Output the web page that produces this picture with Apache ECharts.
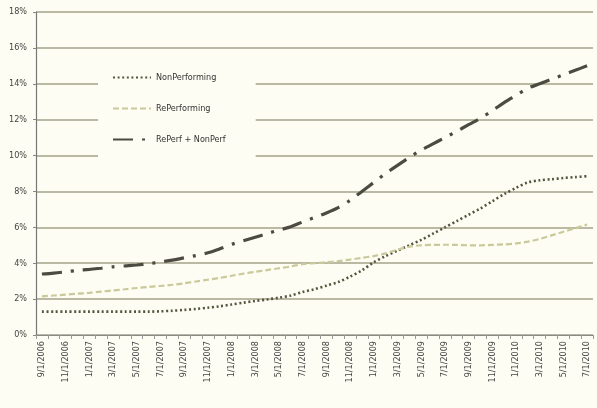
<!DOCTYPE html>
<html>
<head>
<meta charset="utf-8">
<script src="https://cdn.jsdelivr.net/npm/echarts@6/dist/echarts.min.js"></script>
<style>
html,body{margin:0;padding:0;background:#fdfdf3;}
#c{width:597px;height:408px;}
</style>
</head>
<body>
<div id="c"></div>
<script>
var categories = [
 "9/1/2006","10/1/2006","11/1/2006","12/1/2006",
 "1/1/2007","2/1/2007","3/1/2007","4/1/2007","5/1/2007","6/1/2007","7/1/2007","8/1/2007","9/1/2007","10/1/2007","11/1/2007","12/1/2007",
 "1/1/2008","2/1/2008","3/1/2008","4/1/2008","5/1/2008","6/1/2008","7/1/2008","8/1/2008","9/1/2008","10/1/2008","11/1/2008","12/1/2008",
 "1/1/2009","2/1/2009","3/1/2009","4/1/2009","5/1/2009","6/1/2009","7/1/2009","8/1/2009","9/1/2009","10/1/2009","11/1/2009","12/1/2009",
 "1/1/2010","2/1/2010","3/1/2010","4/1/2010","5/1/2010","6/1/2010","7/1/2010"
];
var nonPerforming = [
 1.30,1.30,1.30,1.30,1.30,1.30,1.30,1.30,1.30,1.30,1.32,1.35,1.40,1.45,1.52,1.60,
 1.70,1.80,1.90,1.98,2.08,2.20,2.40,2.55,2.75,2.95,3.25,3.60,
 4.05,4.40,4.70,5.00,5.30,5.65,6.00,6.35,6.70,7.05,7.45,7.85,
 8.20,8.50,8.62,8.68,8.75,8.80,8.85
];
var rePerforming = [
 2.15,2.20,2.25,2.30,2.35,2.42,2.48,2.55,2.62,2.68,2.73,2.80,2.88,2.98,3.08,3.18,
 3.30,3.42,3.52,3.62,3.72,3.82,3.95,4.00,4.05,4.12,4.20,4.30,
 4.40,4.55,4.75,4.92,5.00,5.02,5.03,5.02,5.00,5.00,5.02,5.05,
 5.10,5.20,5.35,5.55,5.75,5.95,6.15
];
var rePerfPlusNonPerf = [
 3.40,3.45,3.52,3.60,3.66,3.72,3.80,3.85,3.90,3.97,4.07,4.17,4.30,4.43,4.58,4.80,
 5.05,5.25,5.45,5.65,5.85,6.03,6.30,6.55,6.80,7.10,7.50,8.00,
 8.50,9.00,9.45,9.90,10.30,10.65,11.00,11.35,11.72,12.08,12.50,12.95,
 13.35,13.75,14.00,14.25,14.50,14.75,15.00
];
var yTicks = {min:0, max:18, interval:2};

var chart = echarts.init(document.getElementById('c'));
var font = "'Liberation Sans Narrow','DejaVu Sans Condensed',sans-serif";
chart.setOption({
  backgroundColor:'#fdfdf3',
  animation:false,
  grid:{left:36,right:4,top:12,bottom:73},
  legend:{
    orient:'vertical', left:98, top:64, itemGap:22, itemWidth:38, itemHeight:10,
    backgroundColor:'#fdfdf3', padding:[9,30,16,14],
    itemStyle:{opacity:0},
    textStyle:{fontFamily:font,fontSize:9,color:'#333'},
    data:['NonPerforming','RePerforming','RePerf + NonPerf']
  },
  xAxis:{
    type:'category', data:categories, boundaryGap:true,
    axisLine:{lineStyle:{color:'#888',width:1.2}},
    axisTick:{show:true,alignWithLabel:false,interval:0,length:4,lineStyle:{color:'#999'}},
    axisLabel:{rotate:90,interval:1,fontFamily:font,fontSize:9,color:'#444',margin:6}
  },
  yAxis:{
    type:'value', min:yTicks.min, max:yTicks.max, interval:yTicks.interval,
    axisLine:{show:true,lineStyle:{color:'#777',width:1.2}},
    axisTick:{show:true,length:3,lineStyle:{color:'#888'}},
    axisLabel:{formatter:'{value}%',fontFamily:font,fontSize:9,color:'#444',margin:9},
    splitLine:{lineStyle:{color:'#a3a38a',width:1.6}}
  },
  series:[
    {name:'NonPerforming',type:'line',data:nonPerforming,symbol:'none',smooth:0.3,
     lineStyle:{color:'#55553f',width:2.6,type:[2,2.6],cap:'butt'},itemStyle:{color:'#55553f'}},
    {name:'RePerforming',type:'line',data:rePerforming,symbol:'none',smooth:0.3,
     lineStyle:{color:'#c9c99c',width:2.2,type:[6,3]},itemStyle:{color:'#c9c99c'}},
    {name:'RePerf + NonPerf',type:'line',data:rePerfPlusNonPerf,symbol:'none',smooth:0.3,
     lineStyle:{color:'#4b4b42',width:3.2,type:[20,9,3,9]},itemStyle:{color:'#4b4b42'}}
  ]
});
</script>
</body>
</html>
